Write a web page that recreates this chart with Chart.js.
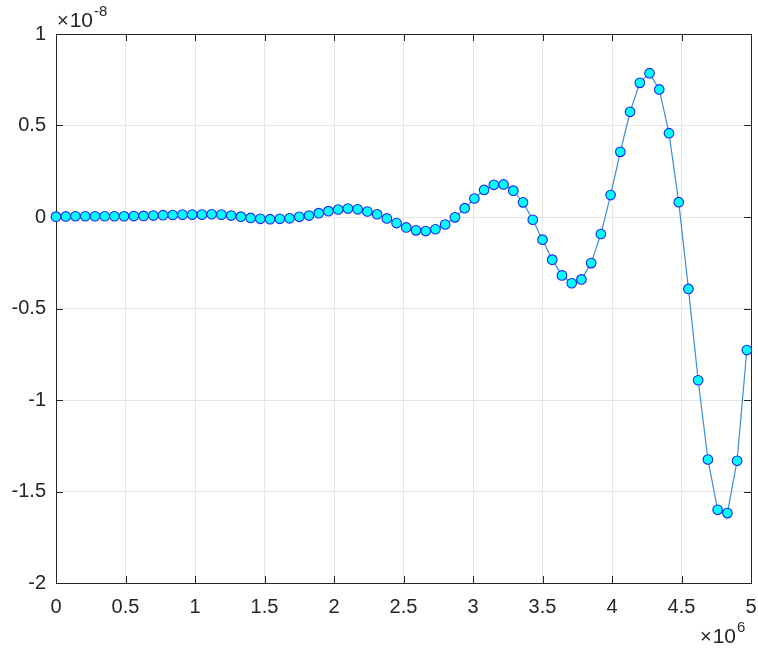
<!DOCTYPE html>
<html>
<head>
<meta charset="utf-8">
<script src="https://cdn.jsdelivr.net/npm/chart.js@4/dist/chart.umd.min.js"></script>
<style>
  html, body { margin: 0; padding: 0; background: #fff; }
  #wrap { width: 758px; height: 656px; }
</style>
</head>
<body>
<div id="wrap"><canvas id="chart" width="758" height="656"></canvas></div>
<script>
// x in units of 1e6, y in units of 1e-8
const xValues = [
  0, 0.07, 0.14, 0.21, 0.28, 0.35, 0.42, 0.49, 0.56, 0.63,
  0.70, 0.77, 0.84, 0.91, 0.98, 1.05, 1.12, 1.19, 1.26, 1.33,
  1.40, 1.47, 1.54, 1.61, 1.68, 1.75, 1.82, 1.89, 1.96, 2.03,
  2.10, 2.17, 2.24, 2.31, 2.38, 2.45, 2.52, 2.59, 2.66, 2.73,
  2.80, 2.87, 2.94, 3.01, 3.08, 3.15, 3.22, 3.29, 3.36, 3.43,
  3.50, 3.57, 3.64, 3.71, 3.78, 3.85, 3.92, 3.99, 4.06, 4.13,
  4.20, 4.27, 4.34, 4.41, 4.48, 4.55, 4.62, 4.69, 4.76, 4.83,
  4.90, 4.97,
];
const yValues = [
  0.002, 0.003, 0.004, 0.004, 0.004, 0.004, 0.004, 0.004, 0.005, 0.006,
  0.008, 0.010, 0.011, 0.013, 0.013, 0.013, 0.015, 0.013, 0.008, 0.002,
  -0.005, -0.010, -0.012, -0.010, -0.007, 0.001, 0.008, 0.021, 0.032, 0.041,
  0.046, 0.042, 0.030, 0.015, -0.008, -0.033, -0.057, -0.073, -0.077, -0.067,
  -0.041, -0.002, 0.048, 0.101, 0.148, 0.176, 0.178, 0.144, 0.080, -0.015,
  -0.124, -0.233, -0.319, -0.362, -0.341, -0.252, -0.093, 0.120, 0.356, 0.575,
  0.733, 0.786, 0.697, 0.458, 0.081, -0.393, -0.892, -1.325, -1.600, -1.618,
  -1.332, -0.727,
];
const xTickValues = [0, 0.5, 1, 1.5, 2, 2.5, 3, 3.5, 4, 4.5, 5];
const xTickLabels = ['0', '0.5', '1', '1.5', '2', '2.5', '3', '3.5', '4', '4.5', '5'];
const yTickValues = [-2, -1.5, -1, -0.5, 0, 0.5, 1];
const yTickLabels = ['-2', '-1.5', '-1', '-0.5', '0', '0.5', '1'];
const xExponent = '6';
const yExponent = '-8';

const FONT = '"Liberation Sans", Arial, Helvetica, sans-serif';
const AXIS = '#262626';

function labelFor(values, labels, v) {
  const i = values.findIndex((t) => Math.abs(t - v) < 1e-9);
  return i >= 0 ? labels[i] : '';
}

function drawPower(ctx, x, y, exp) {
  // "×10" with a raised exponent, left-aligned at x, baseline y
  ctx.save();
  ctx.fillStyle = AXIS;
  ctx.textBaseline = 'alphabetic';
  ctx.textAlign = 'left';
  ctx.font = `20px ${FONT}`;
  ctx.fillText('\u00d7', x, y);
  const w1 = ctx.measureText('\u00d7').width;
  ctx.font = `21px ${FONT}`;
  ctx.fillText('10', x + w1 + 1, y);
  const w2 = ctx.measureText('10').width;
  ctx.font = `15px ${FONT}`;
  ctx.fillText(exp, x + w1 + 1 + w2 + 1, y - 11);
  ctx.restore();
}

const frame = {
  id: 'frame',
  beforeDatasetsDraw(chart) {
    const { ctx, chartArea: a, scales } = chart;
    ctx.save();
    ctx.strokeStyle = AXIS;
    ctx.lineWidth = 1;
    ctx.strokeRect(Math.round(a.left) + 0.5, Math.round(a.top) + 0.5,
      Math.round(a.right - a.left), Math.round(a.bottom - a.top));
    const len = 7;
    ctx.beginPath();
    xTickValues.forEach((v) => {
      const px = Math.round(scales.x.getPixelForValue(v)) + 0.5;
      ctx.moveTo(px, a.bottom); ctx.lineTo(px, a.bottom - len);
      ctx.moveTo(px, a.top); ctx.lineTo(px, a.top + len);
    });
    yTickValues.forEach((v) => {
      const py = Math.round(scales.y.getPixelForValue(v)) + 0.5;
      ctx.moveTo(a.left, py); ctx.lineTo(a.left + len, py);
      ctx.moveTo(a.right, py); ctx.lineTo(a.right - len, py);
    });
    ctx.stroke();
    ctx.restore();
  },
  afterDraw(chart) {
    const { ctx, chartArea: a } = chart;
    drawPower(ctx, a.left + 1, a.top - 7, yExponent);
    drawPower(ctx, a.right - 51, a.bottom + 60, xExponent);
  },
};

new Chart(document.getElementById('chart'), {
  type: 'line',
  data: {
    datasets: [{
      data: xValues.map((x, i) => ({ x, y: yValues[i] })),
      borderColor: '#3b8ed2',
      borderWidth: 1.2,
      backgroundColor: '#00ffff',
      pointBackgroundColor: '#00ffff',
      pointBorderColor: '#2020f0',
      pointBorderWidth: 1.1,
      pointRadius: 4.8,
      tension: 0,
      clip: false,
    }],
  },
  options: {
    responsive: false,
    animation: false,
    layout: { padding: { left: 0, top: 34, right: 7, bottom: 0 } },
    plugins: { legend: { display: false }, tooltip: { enabled: false } },
    scales: {
      x: {
        type: 'linear',
        min: 0,
        max: 5,
        afterFit: (s) => { s.height = 73; s.paddingLeft = 0; s.paddingRight = 0; },
        afterBuildTicks: (s) => { s.ticks = xTickValues.map((value) => ({ value })); },
        grid: { color: '#e6e6e6', drawTicks: false },
        border: { display: false },
        ticks: {
          padding: 12,
          color: AXIS,
          font: { family: FONT, size: 20 },
          maxRotation: 0,
          callback: (v) => labelFor(xTickValues, xTickLabels, v),
        },
      },
      y: {
        type: 'linear',
        min: -2,
        max: 1,
        afterFit: (s) => { s.width = 56; s.paddingTop = 0; s.paddingBottom = 0; },
        afterBuildTicks: (s) => { s.ticks = yTickValues.map((value) => ({ value })); },
        grid: { color: '#e6e6e6', drawTicks: false },
        border: { display: false },
        ticks: {
          padding: 10,
          color: AXIS,
          font: { family: FONT, size: 20 },
          callback: (v) => labelFor(yTickValues, yTickLabels, v),
        },
      },
    },
  },
  plugins: [frame],
});
</script>
</body>
</html>
